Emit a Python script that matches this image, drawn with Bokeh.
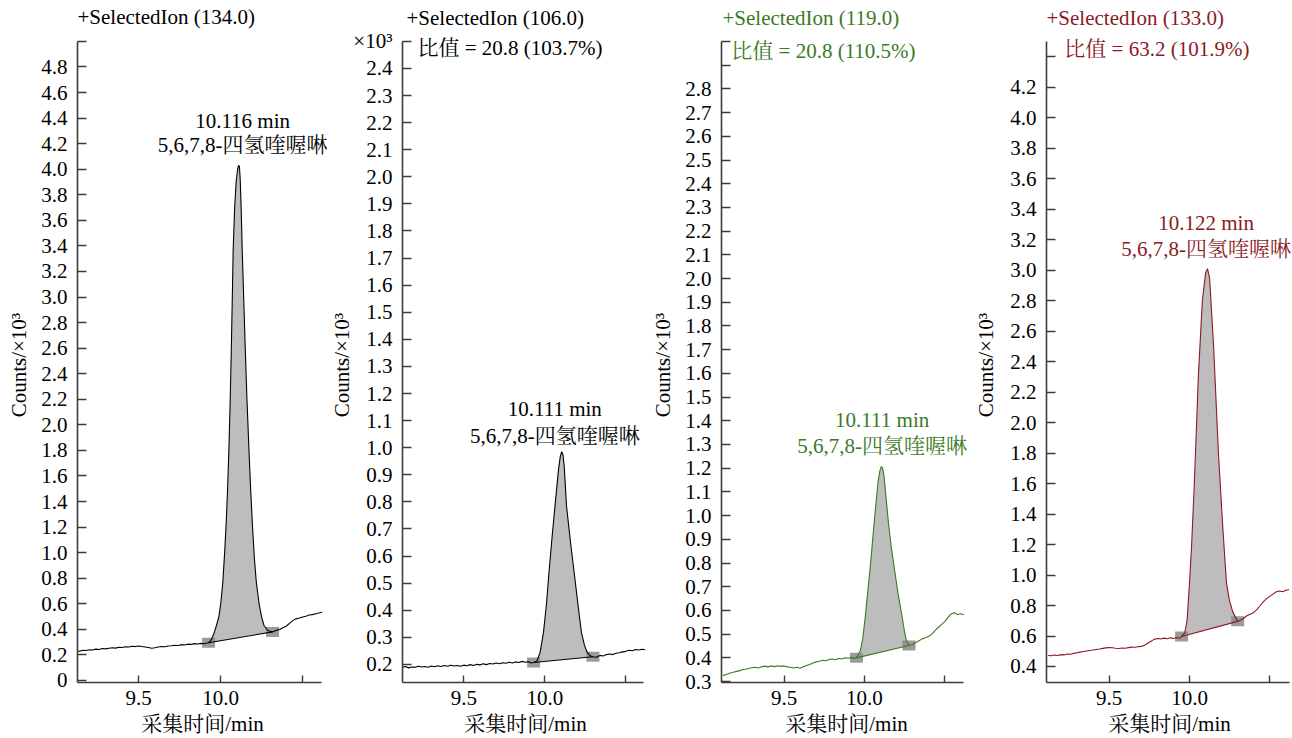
from bokeh.plotting import figure
from bokeh.layouts import row
from bokeh.models import Label, FixedTicker, Range1d, NumeralTickFormatter
from bokeh.embed import file_html
from bokeh.resources import INLINE

SERIF = "'Liberation Serif', 'Times New Roman', 'Noto Serif CJK SC', 'Noto Sans CJK SC', serif"
FS = "21px"

# ---------------- data ----------------
T_PRE = [9.12, 9.14, 9.16, 9.18, 9.20, 9.22, 9.24, 9.26, 9.28, 9.30,
         9.32, 9.34, 9.36, 9.38, 9.40, 9.42, 9.44, 9.46, 9.48, 9.50,
         9.52, 9.54, 9.56, 9.58, 9.60, 9.62, 9.64, 9.66, 9.68, 9.70,
         9.72, 9.74, 9.76, 9.78, 9.80, 9.82, 9.84, 9.86, 9.88, 9.90]
T_POST = [10.34, 10.36, 10.38, 10.40, 10.42, 10.44, 10.46, 10.48, 10.50,
          10.52, 10.54, 10.56, 10.58, 10.60, 10.62]

# ion 134.0
C1_PRE = [0.230, 0.228, 0.236, 0.234, 0.240, 0.238, 0.245, 0.242, 0.250, 0.247,
          0.252, 0.256, 0.253, 0.260, 0.258, 0.264, 0.262, 0.268, 0.265, 0.270,
          0.266, 0.262, 0.258, 0.252, 0.256, 0.262, 0.266, 0.264, 0.270, 0.272,
          0.276, 0.274, 0.280, 0.277, 0.284, 0.282, 0.288, 0.285, 0.290, 0.287]
T1_PEAK = [9.927, 9.939, 9.951, 9.963, 9.975, 9.99, 10.002, 10.014, 10.025, 10.035,
           10.043, 10.051, 10.058, 10.065, 10.071, 10.077, 10.086, 10.095, 10.104, 10.110,
           10.115, 10.120, 10.126, 10.132, 10.141, 10.15, 10.161, 10.173, 10.184, 10.195,
           10.206, 10.218, 10.235, 10.25, 10.265, 10.285, 10.305, 10.317]
C1_PEAK = [0.295, 0.31, 0.34, 0.38, 0.43, 0.50, 0.61, 0.77, 1.0, 1.25,
           1.5, 1.81, 2.15, 2.55, 2.95, 3.37, 3.70, 3.90, 4.00, 4.03,
           4.02, 3.92, 3.68, 3.37, 3.0, 2.62, 2.2, 1.81, 1.48, 1.2,
           0.96, 0.77, 0.6, 0.50, 0.43, 0.395, 0.382, 0.38]
C1_POST = [0.392, 0.398, 0.412, 0.424, 0.447, 0.468, 0.482, 0.488, 0.497,
           0.503, 0.512, 0.515, 0.522, 0.528, 0.535]
M1_T = [9.927, 10.317]
M1_C = [0.295, 0.38]

# ion 106.0
C2_PRE = [0.188, 0.192, 0.187, 0.190, 0.189, 0.193, 0.190, 0.192, 0.189, 0.194,
          0.191, 0.195, 0.192, 0.196, 0.193, 0.197, 0.194, 0.196, 0.193, 0.197,
          0.195, 0.199, 0.196, 0.200, 0.198, 0.202, 0.199, 0.203, 0.201, 0.205,
          0.202, 0.206, 0.204, 0.208, 0.205, 0.209, 0.207, 0.211, 0.208, 0.210]
T2_PEAK = [9.915, 9.931, 9.951, 9.971, 9.992, 10.01, 10.026, 10.045, 10.063, 10.075,
           10.085, 10.095, 10.104, 10.112, 10.12, 10.134, 10.157, 10.181, 10.205, 10.226,
           10.245, 10.262, 10.28, 10.297, 10.318]
C2_PEAK = [0.205, 0.207, 0.212, 0.244, 0.318, 0.42, 0.54, 0.67, 0.785, 0.86,
           0.92, 0.965, 0.985, 0.975, 0.93, 0.785, 0.66, 0.54, 0.42, 0.318,
           0.27, 0.244, 0.232, 0.228, 0.226]
C2_POST = [0.233, 0.231, 0.236, 0.238, 0.236, 0.241, 0.243, 0.246, 0.248,
           0.252, 0.250, 0.255, 0.253, 0.256, 0.254]
M2_T = [9.931, 10.297]
M2_C = [0.207, 0.228]

# ion 119.0
C3_PRE = [0.325, 0.330, 0.335, 0.338, 0.342, 0.345, 0.350, 0.352, 0.355, 0.358,
          0.360, 0.357, 0.362, 0.365, 0.362, 0.366, 0.363, 0.367, 0.364, 0.366,
          0.362, 0.360, 0.357, 0.360, 0.356, 0.362, 0.368, 0.372, 0.378, 0.383,
          0.386, 0.390, 0.388, 0.393, 0.395, 0.392, 0.397, 0.395, 0.400, 0.398]
T3_PEAK = [9.92, 9.94, 9.951, 9.975, 9.99, 10.006, 10.02, 10.037, 10.052, 10.068,
           10.085, 10.097, 10.106, 10.114, 10.122, 10.132, 10.15, 10.167, 10.185, 10.21,
           10.235, 10.25, 10.26, 10.278, 10.30, 10.32]
C3_PEAK = [0.401, 0.399, 0.40, 0.43, 0.48, 0.574, 0.67, 0.785, 0.90, 1.02,
           1.14, 1.19, 1.207, 1.20, 1.17, 1.10, 0.97, 0.87, 0.785, 0.67,
           0.574, 0.51, 0.477, 0.452, 0.456, 0.465]
C3_POST = [0.472, 0.480, 0.485, 0.490, 0.500, 0.515, 0.528, 0.540, 0.553,
           0.570, 0.585, 0.590, 0.583, 0.586, 0.582]
M3_T = [9.951, 10.278]
M3_C = [0.40, 0.452]

# ion 133.0
C4_PRE = [0.472, 0.470, 0.475, 0.472, 0.478, 0.476, 0.482, 0.480, 0.486, 0.490,
          0.494, 0.498, 0.502, 0.505, 0.508, 0.512, 0.515, 0.519, 0.522, 0.525,
          0.523, 0.520, 0.518, 0.521, 0.520, 0.524, 0.527, 0.526, 0.530, 0.532,
          0.540, 0.552, 0.565, 0.578, 0.584, 0.580, 0.586, 0.582, 0.588, 0.584]
T4_PEAK = [9.92, 9.94, 9.951, 9.97, 9.985, 10.0, 10.012, 10.03, 10.055, 10.08,
           10.1, 10.112, 10.125, 10.15, 10.18, 10.205, 10.216, 10.23, 10.247, 10.27,
           10.30, 10.32]
C4_PEAK = [0.590, 0.585, 0.597, 0.62, 0.70, 0.95, 1.17, 1.6, 2.3, 2.8,
           2.98, 3.01, 2.95, 2.5, 1.8, 1.35, 1.17, 0.95, 0.84, 0.755,
           0.696, 0.705]
C4_POST = [0.72, 0.735, 0.745, 0.755, 0.775, 0.80, 0.825, 0.845, 0.86,
           0.875, 0.89, 0.895, 0.89, 0.90, 0.905]
M4_T = [9.951, 10.30]
M4_C = [0.597, 0.696]

TITLES = ["+SelectedIon (134.0)", "+SelectedIon (106.0)",
          "+SelectedIon (119.0)", "+SelectedIon (133.0)"]
RATIOS = [None, "比值 = 20.8 (103.7%)", "比值 = 20.8 (110.5%)", "比值 = 63.2 (101.9%)"]
RT_TEXT = ["10.116 min", "10.111 min", "10.111 min", "10.122 min"]
RT_VALUE = [10.116, 10.111, 10.111, 10.122]
COMPOUND = "5,6,7,8-四氢喹喔啉"
Y_LABEL = "Counts/×10³"
X_LABEL = "采集时间/min"
COLORS = ["#000000", "#000000", "#3b7a1f", "#8b1a1f"]

X_TICKS = [9.5, 10.0, 10.5]
X_LABELS = {10.5: ""}
Y1_TICKS = [0, 0.2, 0.4, 0.6, 0.8, 1.0, 1.2, 1.4, 1.6, 1.8, 2.0, 2.2, 2.4, 2.6,
            2.8, 3.0, 3.2, 3.4, 3.6, 3.8, 4.0, 4.2, 4.4, 4.6, 4.8, 5.0]
Y1_LABELS = {0: "0", 5.0: ""}
Y2_TICKS = [0.2, 0.3, 0.4, 0.5, 0.6, 0.7, 0.8, 0.9, 1.0, 1.1, 1.2, 1.3, 1.4,
            1.5, 1.6, 1.7, 1.8, 1.9, 2.0, 2.1, 2.2, 2.3, 2.4, 2.5]
Y2_LABELS = {2.5: "×10³"}
Y3_TICKS = [0.3, 0.4, 0.5, 0.6, 0.7, 0.8, 0.9, 1.0, 1.1, 1.2, 1.3, 1.4, 1.5,
            1.6, 1.7, 1.8, 1.9, 2.0, 2.1, 2.2, 2.3, 2.4, 2.5, 2.6, 2.7, 2.8, 2.9, 3.0]
Y3_LABELS = {2.9: "", 3.0: ""}
Y4_TICKS = [0.4, 0.6, 0.8, 1.0, 1.2, 1.4, 1.6, 1.8, 2.0, 2.2, 2.4, 2.6, 2.8,
            3.0, 3.2, 3.4, 3.6, 3.8, 4.0, 4.2, 4.4]
Y4_LABELS = {4.4: ""}

# ---------------- layout settings ----------------
H = 738
BOTTOM = 55
# the y axis label is centred on the whole frame (which reaches the top of the
# figure here); non-breaking spaces at its end move the visible words down
Y_LABEL_PAD = "\u00a0" * 9

PANELS = [
    dict(pre=C1_PRE, tp=T1_PEAK, cp=C1_PEAK, post=C1_POST, mt=M1_T, mc=M1_C,
         xr=(9.128, 10.652), xb=(9.128, 10.616),
         yr=(-0.016, 5.320), yb=(-0.016, 5.0), title_y=5.1875,
         yt=Y1_TICKS, yl=Y1_LABELS, width=327, left=77, title_dx=0,
         ratio_xy=None, lab_y=(4.38, 4.19), lab_dx=3, ylab_standoff=7),
    dict(pre=C2_PRE, tp=T2_PEAK, cp=C2_PEAK, post=C2_POST, mt=M2_T, mc=M2_C,
         xr=(9.122, 10.640), xb=(9.122, 10.61),
         yr=(0.133, 2.651), yb=(0.133, 2.5), title_y=2.588,
         yt=Y2_TICKS, yl=Y2_LABELS, width=321, left=72, title_dx=4,
         ratio_xy=(9.214, 2.474), lab_y=(1.144, 1.044), lab_dx=-8, ylab_standoff=-4),
    dict(pre=C3_PRE, tp=T3_PEAK, cp=C3_PEAK, post=C3_POST, mt=M3_T, mc=M3_C,
         xr=(9.111, 10.667), xb=(9.111, 10.62),
         yr=(0.296, 3.173), yb=(0.296, 3.0), title_y=3.101,
         yt=Y3_TICKS, yl=Y3_LABELS, width=323, left=71, title_dx=1,
         ratio_xy=(9.172, 2.962), lab_y=(1.405, 1.292), lab_dx=0, ylab_standoff=7),
    dict(pre=C4_PRE, tp=T4_PEAK, cp=C4_PEAK, post=C4_POST, mt=M4_T, mc=M4_C,
         xr=(9.11, 10.641), xb=(9.11, 10.62),
         yr=(0.295, 4.769), yb=(0.295, 4.5), title_y=4.657,
         yt=Y4_TICKS, yl=Y4_LABELS, width=321, left=73, title_dx=0,
         ratio_xy=(9.221, 4.453), lab_y=(3.31, 3.14), lab_dx=-3, ylab_standoff=9),
]


def make_panel(i, d):
    color = COLORS[i]
    p = figure(width=d["width"], height=H,
               x_range=Range1d(*d["xr"]), y_range=Range1d(*d["yr"]),
               output_backend="svg", toolbar_location=None,
               min_border_left=d["left"], min_border_right=0,
               min_border_top=0, min_border_bottom=BOTTOM)
    p.outline_line_color = None
    p.grid.visible = False
    p.background_fill_color = "white"
    p.border_fill_color = "white"

    for ax in (p.xaxis[0], p.yaxis[0]):
        ax.axis_line_color = "#3c3c3c"
        ax.axis_line_width = 1.6
        ax.major_tick_line_color = "#3c3c3c"
        ax.major_tick_line_width = 1.4
        ax.major_tick_out = 0
        ax.minor_tick_in = 0
        ax.minor_tick_out = 0
        ax.major_label_text_font = SERIF
        ax.major_label_text_font_size = FS
        ax.major_label_text_color = "black"
        ax.axis_label_text_font = SERIF
        ax.axis_label_text_font_size = FS
        ax.axis_label_text_font_style = "normal"
        ax.axis_label_text_color = "black"

    xa = p.xaxis[0]
    xa.ticker = FixedTicker(ticks=X_TICKS)
    xa.formatter = NumeralTickFormatter(format="0.0")
    xa.major_label_overrides = X_LABELS
    xa.bounds = d["xb"]
    xa.major_tick_in = 7
    xa.major_label_standoff = 8
    xa.axis_label = X_LABEL
    xa.axis_label_standoff = 4
    xa.axis_label_text_line_height = 1.0

    ya = p.yaxis[0]
    ya.ticker = FixedTicker(ticks=d["yt"])
    ya.formatter = NumeralTickFormatter(format="0.0")
    ya.major_label_overrides = d["yl"]
    ya.bounds = d["yb"]
    ya.major_tick_in = 9
    ya.major_label_standoff = 10
    ya.axis_label = Y_LABEL + Y_LABEL_PAD
    ya.axis_label_standoff = d["ylab_standoff"]

    t_all = T_PRE + d["tp"] + T_POST
    c_all = d["pre"] + d["cp"] + d["post"]
    t0, t1 = d["mt"]
    px = [t for t in d["tp"] if t0 <= t <= t1]
    py = [c for t, c in zip(d["tp"], d["cp"]) if t0 <= t <= t1]

    p.patch(px, py, fill_color="#bdbdbd", line_color=None)
    p.rect(x=d["mt"], y=d["mc"], width=13, height=10, width_units="screen",
           height_units="screen", fill_color="#8a8a8a", fill_alpha=0.85, line_color=None)
    p.line(t_all, c_all, line_color=color, line_width=1.1)
    p.line(d["mt"], d["mc"], line_color=color, line_width=1.1)

    p.add_layout(Label(x=d["xr"][0], y=d["title_y"], x_offset=d["title_dx"],
                       text=TITLES[i], text_font=SERIF, text_font_size=FS,
                       text_color=color, text_align="left", text_baseline="middle"))
    if RATIOS[i]:
        rx, ry = d["ratio_xy"]
        p.add_layout(Label(x=rx, y=ry, text=RATIOS[i], text_font=SERIF,
                           text_font_size=FS, text_color=color,
                           text_align="left", text_baseline="middle"))
    p.add_layout(Label(x=RT_VALUE[i], y=d["lab_y"][0], x_offset=d["lab_dx"],
                       text=RT_TEXT[i], text_font=SERIF, text_font_size=FS,
                       text_color=color, text_align="center", text_baseline="middle"))
    p.add_layout(Label(x=RT_VALUE[i], y=d["lab_y"][1], x_offset=d["lab_dx"],
                       text=COMPOUND, text_font=SERIF, text_font_size=FS,
                       text_color=color, text_align="center", text_baseline="middle"))
    return p


figs = [make_panel(i, d) for i, d in enumerate(PANELS)]
layout = row(*figs)

open("out.html", "w").write(file_html(layout, INLINE))
